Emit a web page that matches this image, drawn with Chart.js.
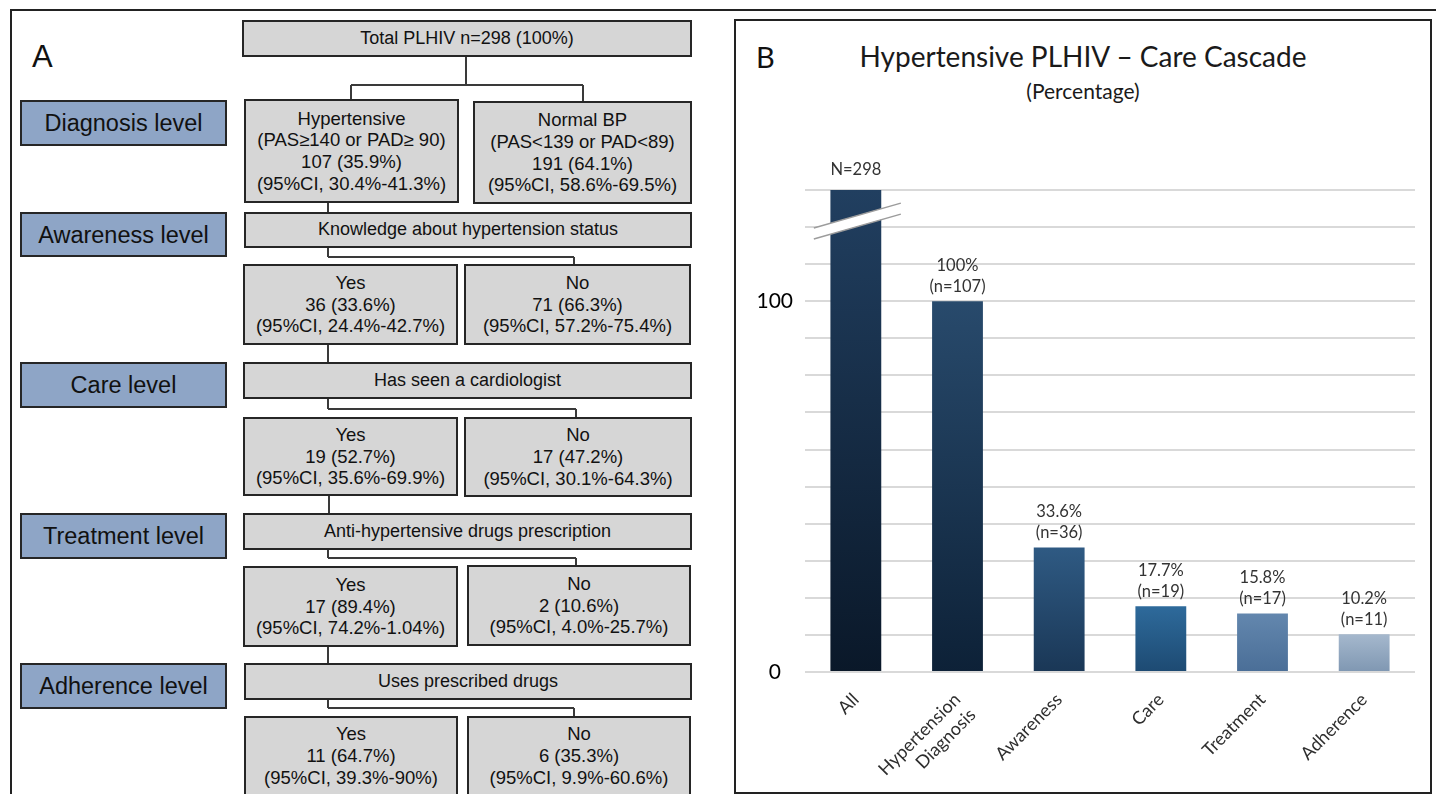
<!DOCTYPE html>
<html>
<head>
<meta charset="utf-8">
<script src="https://cdn.jsdelivr.net/npm/chart.js@4.4.1/dist/chart.umd.min.js"></script>
<style>
  html, body { margin: 0; padding: 0; background: #fff; }
  #page { position: relative; width: 1436px; height: 794px; overflow: hidden;
          font-family: "Liberation Sans", Arial, sans-serif; color: #111; }
  .ln { position: absolute; background: #3a3a3a; }
  .frame { position: absolute; background: #222; }
  .bx { position: absolute; box-sizing: border-box; border: 2px solid #262626; background: #d6d6d6;
        display: flex; flex-direction: column; align-items: center; justify-content: center;
        text-align: center; font-size: 18.5px; line-height: 21.7px; white-space: nowrap; }
  .bx.head { font-size: 18px; }
  .bx.lvl { background: #8ea5c6; font-size: 23.5px; line-height: 26px; }
  .txt { position: absolute; line-height: 1; white-space: nowrap; }
  #panelB { position: absolute; left: 734px; top: 19px; width: 698px; height: 775px;
            box-sizing: border-box; border: 2px solid #222; }
  #wrap { position: absolute; left: 736px; top: 22px; width: 694px; height: 770px; }
</style>
</head>
<body>
<div id="page">
  <div class="frame" style="left:10px;top:9px;width:1426px;height:2px"></div>
  <div class="frame" style="left:10px;top:9px;width:2px;height:785px"></div>
  <div class="txt" style="left:32px;top:41px;font-size:31px">A</div>
  <div id="panelB"></div>
  <div class="txt" style="left:756px;top:42px;font-size:29px;font-family:Lato">B</div>
  <div class="txt" style="left:736px;width:694px;top:42px;text-align:center;font-size:28px;font-family:Lato;color:#1a1a1a">Hypertensive PLHIV – Care Cascade</div>
  <div class="txt" style="left:736px;width:694px;top:80px;text-align:center;font-size:21px;font-family:Lato;color:#1a1a1a">(Percentage)</div>
  <div id="wrap"><canvas id="cascade"></canvas></div>
</div>
<script>
// ---- panel B data ----
const stages = ['All', ['Hypertension', 'Diagnosis'], 'Awareness', 'Care', 'Treatment', 'Adherence'];
const counts = [298, 107, 36, 19, 17, 11];
const percents = [298, 100, 33.6, 17.7, 15.8, 10.2];   // first bar is the whole cohort, cut by the axis break
const pctText = ['', '100%', '33.6%', '17.7%', '15.8%', '10.2%'];
const yTickLabels = [0, 100];

// bar shading, top -> bottom
const barTops = ['#213f60', '#284a6c', '#2f5a83', '#2e6a9b', '#6387ae', '#a5b8cd'];
const barBottoms = ['#0a1829', '#0d2137', '#1a3756', '#1d4a72', '#4a6e97', '#7f97b2'];

// ---- panel A flowchart ----
const page = document.getElementById('page');

function line(x1, y1, x2, y2) {
  const d = document.createElement('div');
  d.className = 'ln';
  const w = 1.6;
  if (x1 === x2) {
    d.style.cssText = `left:${x1 - w / 2}px;top:${y1}px;width:${w}px;height:${y2 - y1}px`;
  } else {
    d.style.cssText = `left:${x1}px;top:${y1 - w / 2}px;width:${x2 - x1}px;height:${w}px`;
  }
  page.appendChild(d);
}

function box(x1, y1, x2, y2, cls, lines) {
  const d = document.createElement('div');
  d.className = 'bx ' + cls;
  d.style.cssText = `left:${x1}px;top:${y1}px;width:${x2 - x1}px;height:${y2 - y1}px`;
  lines.forEach(t => {
    const s = document.createElement('div');
    s.textContent = t;
    d.appendChild(s);
  });
  page.appendChild(d);
}

// level labels
box(20, 100, 227, 146, 'lvl', ['Diagnosis level']);
box(20, 212, 227, 257, 'lvl', ['Awareness level']);
box(20, 362, 227, 408, 'lvl', ['Care level']);
box(20, 513, 227, 559, 'lvl', ['Treatment level']);
box(20, 663, 227, 709, 'lvl', ['Adherence level']);

// top
box(242, 20, 692, 57, 'head', ['Total PLHIV n=298 (100%)']);
line(466, 57, 466, 85);
line(351, 85, 583, 85);
line(351, 85, 351, 100);
line(583, 85, 583, 101);
box(244, 99, 459, 203, '', ['Hypertensive', '(PAS≥140 or PAD≥ 90)', '107 (35.9%)', '(95%CI, 30.4%-41.3%)']);
box(473, 101, 692, 204, '', ['Normal BP', '(PAS<139 or PAD<89)', '191 (64.1%)', '(95%CI, 58.6%-69.5%)']);

// awareness
line(328, 203, 328, 212);
box(244, 212, 692, 248, 'head', ['Knowledge about hypertension status']);
line(328, 248, 328, 257);
line(328, 257, 574, 257);
line(574, 257, 574, 264);
box(243, 264, 458, 345, '', ['Yes', '36 (33.6%)', '(95%CI, 24.4%-42.7%)']);
box(464, 264, 691, 345, '', ['No', '71 (66.3%)', '(95%CI, 57.2%-75.4%)']);

// care
line(328, 345, 328, 362);
box(243, 362, 692, 399, 'head', ['Has seen a cardiologist']);
line(328, 399, 328, 409);
line(328, 409, 576, 409);
line(576, 409, 576, 417);
box(243, 417, 458, 496, '', ['Yes', '19 (52.7%)', '(95%CI, 35.6%-69.9%)']);
box(464, 417, 692, 497, '', ['No', '17 (47.2%)', '(95%CI, 30.1%-64.3%)']);

// treatment
line(329, 496, 329, 513);
box(243, 513, 692, 550, 'head', ['Anti-hypertensive drugs prescription']);
line(328, 550, 328, 558);
line(328, 558, 576, 558);
line(576, 558, 576, 565);
box(243, 566, 458, 647, '', ['Yes', '17 (89.4%)', '(95%CI, 74.2%-1.04%)']);
box(467, 565, 691, 646, '', ['No', '2 (10.6%)', '(95%CI, 4.0%-25.7%)']);

// adherence
line(328, 647, 328, 663);
box(244, 663, 692, 700, 'head', ['Uses prescribed drugs']);
line(328, 700, 328, 708);
line(328, 708, 574, 708);
line(574, 708, 574, 716);
box(244, 716, 458, 796, '', ['Yes', '11 (64.7%)', '(95%CI, 39.3%-90%)']);
box(467, 716, 691, 796, '', ['No', '6 (35.3%)', '(95%CI, 9.9%-60.6%)']);

// ---- panel B chart ----
const breakAt = 121.5;

const axisBreak = {
  id: 'axisBreak',
  afterDatasetsDraw(chart) {
    const ctx = chart.ctx;
    const el = chart.getDatasetMeta(0).data[0];
    const y = chart.scales.y.getPixelForValue(breakAt);
    const x1 = el.x - 42, x2 = el.x + 45, slope = 0.287, gap = 5.5;
    const yl = y + (el.x - x1) * slope;
    const yr = y - (x2 - el.x) * slope;
    ctx.save();
    ctx.fillStyle = '#ffffff';
    ctx.beginPath();
    ctx.moveTo(x1, yl - gap);
    ctx.lineTo(x2, yr - gap);
    ctx.lineTo(x2, yr + gap);
    ctx.lineTo(x1, yl + gap);
    ctx.closePath();
    ctx.fill();
    ctx.strokeStyle = '#9c9c9c';
    ctx.lineWidth = 1.5;
    ctx.beginPath();
    ctx.moveTo(x1, yl - gap);
    ctx.lineTo(x2, yr - gap);
    ctx.moveTo(x1, yl + gap);
    ctx.lineTo(x2, yr + gap);
    ctx.stroke();
    ctx.restore();
  }
};

const barLabels = {
  id: 'barLabels',
  afterDatasetsDraw(chart) {
    const ctx = chart.ctx;
    const area = chart.chartArea;
    ctx.save();
    ctx.font = '16.5px Lato';
    ctx.fillStyle = '#333';
    ctx.textAlign = 'center';
    ctx.textBaseline = 'middle';
    chart.getDatasetMeta(0).data.forEach((el, i) => {
      const top = Math.max(el.y, area.top);
      const lines = i === 0 ? ['N=' + counts[i]] : [pctText[i], '(n=' + counts[i] + ')'];
      lines.slice().reverse().forEach((t, k) => {
        ctx.fillText(t, el.x, top - (i === 0 ? 20 : 15) - k * 21);
      });
    });
    ctx.restore();
  }
};

new Chart(document.getElementById('cascade'), {
  type: 'bar',
  data: {
    labels: stages,
    datasets: [{
      data: percents,
      clip: 0,
      categoryPercentage: 1,
      barPercentage: 0.5,
      backgroundColor: (c) => {
        const chart = c.chart;
        const area = chart.chartArea;
        const i = c.dataIndex;
        if (!area || i === undefined) return barTops[0];
        const top = Math.max(chart.scales.y.getPixelForValue(percents[i]), area.top);
        const g = chart.ctx.createLinearGradient(0, top, 0, area.bottom);
        g.addColorStop(0, barTops[i]);
        g.addColorStop(1, barBottoms[i]);
        return g;
      }
    }]
  },
  options: {
    responsive: true,
    maintainAspectRatio: false,
    animation: false,
    layout: { padding: { top: 168, right: 15, left: 0, bottom: 0 } },
    plugins: {
      legend: { display: false },
      tooltip: { enabled: false }
    },
    scales: {
      x: {
        afterFit: (s) => { s.height = 120; },
        grid: { display: false },
        border: { display: false },
        ticks: {
          minRotation: 45,
          maxRotation: 45,
          autoSkip: false,
          padding: 9,
          color: '#2e2e2e',
          font: { family: 'Lato', size: 18 }
        }
      },
      y: {
        min: 0,
        max: 130,
        afterFit: (s) => { s.width = 69; },
        grid: { color: '#d9d9d9', lineWidth: 2, drawTicks: false },
        border: { display: false },
        ticks: {
          stepSize: 10,
          autoSkip: false,
          crossAlign: 'center',
          padding: 12,
          color: '#000',
          font: { family: 'Lato', size: 21 },
          callback: (v) => (yTickLabels.includes(v) ? v : '')
        }
      }
    }
  },
  plugins: [axisBreak, barLabels]
});
</script>
</body>
</html>
